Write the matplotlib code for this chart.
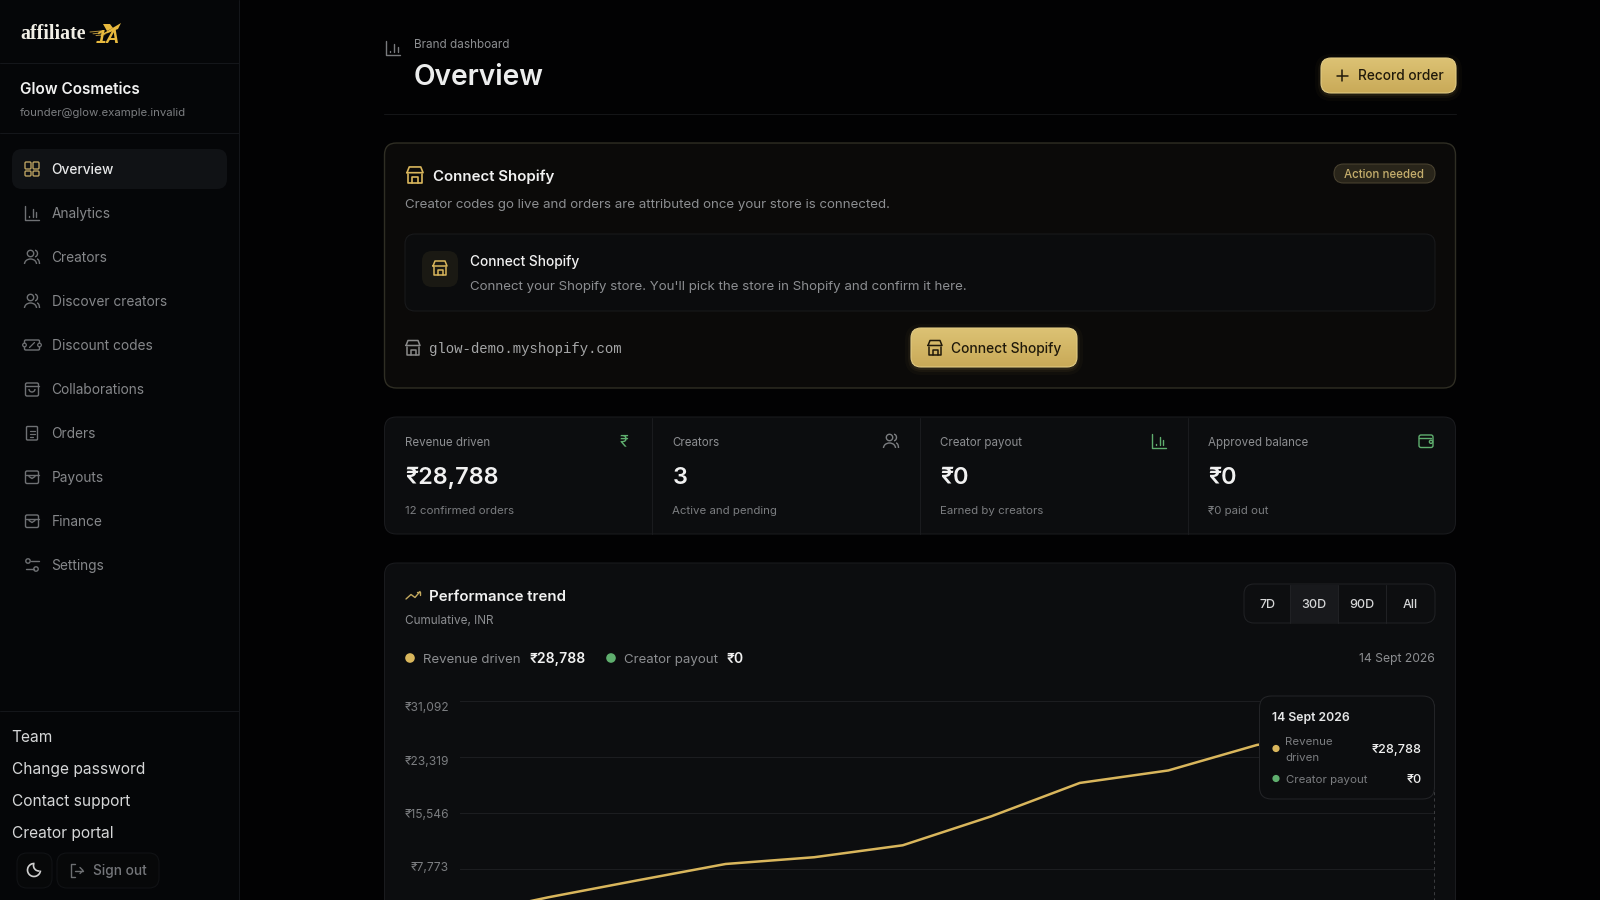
import numpy as np
import matplotlib
matplotlib.use("Agg")
import matplotlib.pyplot as plt
from matplotlib.patches import FancyBboxPatch, Circle, Arc, Polygon
from matplotlib.transforms import ScaledTranslation

plt.rcParams['font.family'] = ['Inter', 'DejaVu Sans']

# data
order_no = [1, 2, 3, 4, 5, 6, 7, 8, 9, 10, 11, 12]
revenue = [1300, 3900, 6230, 8510, 9445, 11100, 15115, 19740, 21470, 25000, 26900, 28788]
payout = [0, 0, 0, 0, 0, 0, 0, 0, 0, 0, 0, 0]
y_ticks = [7773, 15546, 23319, 31092]
y_labels = ['₹7,773', '₹15,546', '₹23,319', '₹31,092']
label_shift = [3, 0, -3, -6]

nav_items = ['Overview', 'Analytics', 'Creators', 'Discover creators', 'Discount codes',
             'Collaborations', 'Orders', 'Payouts', 'Finance', 'Settings']
foot_items = ['Team', 'Change password', 'Contact support', 'Creator portal']
kpi_labels = ['Revenue driven', 'Creators', 'Creator payout', 'Approved balance']
kpi_values = ['₹28,788', '3', '₹0', '₹0']
kpi_notes = ['12 confirmed orders', 'Active and pending', 'Earned by creators', '₹0 paid out']
ranges = ['7D', '30D', '90D', 'All']

GOLD = '#d9b65c'
GREEN = '#5fae6e'
GREY = '#8c8e91'
DIM = '#7b7d80'
WHITE = '#f1f1f1'
CARD = '#0c0d0f'
EDGE = '#1a1b1e'
HAIR = 0.75

fig = plt.figure(figsize=(16, 9), dpi=100, facecolor='#020203')
ui = fig.add_axes([0, 0, 1, 1], zorder=1)
over = fig.add_axes([0, 0, 1, 1], zorder=3)
for a in (ui, over):
    a.set_xlim(0, 1600)
    a.set_ylim(900, 0)
    a.axis('off')
    a.patch.set_alpha(0)


def txt(a, x, y, s, px, color=GREY, weight='normal', ha='left', family=None):
    # Inter runs wide next to the page font, so it gets squeezed a bit
    kw = {} if family is None else {'family': family}
    size = px * 0.94 if family is None else px
    a.text(x, y + 0.36 * size, s, fontsize=size * 0.72, color=color, fontweight=weight, ha=ha,
           va='baseline', **kw)


def box(a, x0, y0, x1, y1, r, fc, ec='none', lw=HAIR, alpha=1, z=2):
    p = FancyBboxPatch((x0, y0), x1 - x0, y1 - y0, boxstyle=f"round,pad=0,rounding_size={r}",
                       fc=fc, ec=ec, lw=lw, alpha=alpha, zorder=z)
    a.add_patch(p)
    return p


def seg(a, xs, ys, c, lw=1.0, z=5):
    a.plot(xs, ys, color=c, lw=lw, solid_capstyle='round', solid_joinstyle='round', zorder=z)


def gold_button(a, x0, y0, x1, y1):
    for i, al in zip([7, 4, 2], [0.03, 0.05, 0.08]):
        box(a, x0 - i + 1, y0 - i + 3, x1 + i - 1, y1 + i + 1, 10 + i, GOLD, alpha=al, z=3)
    p = box(a, x0, y0, x1, y1, 10, 'none', ec='#e3cd86', lw=HAIR, z=5)
    im = a.imshow(np.linspace(0, 1, 32).reshape(-1, 1), extent=(x0, x1, y1, y0), aspect='auto',
                  cmap=matplotlib.colors.LinearSegmentedColormap.from_list('g', ['#dcc274', '#c9aa58']),
                  zorder=4)
    im.set_clip_path(box(a, x0, y0, x1, y1, 10, 'none', z=1))
    a.set_xlim(0, 1600)
    a.set_ylim(900, 0)
    return p


def ic_bars(a, cx, cy, c, s=1.0):
    seg(a, [cx - 7 * s, cx - 7 * s, cx + 7 * s], [cy - 7 * s, cy + 7 * s, cy + 7 * s], c)
    for dx, top in [(-3, 3), (1, -4), (4.5, -1)]:
        seg(a, [cx + dx * s, cx + dx * s], [cy + 4 * s, cy + top * s], c)


def ic_grid(a, cx, cy, c):
    for x0, y0, x1, y1 in [(-7, -7, -1, 0), (1, -7, 7, 0), (1, 2, 7, 7), (-7, 2, -1, 7)]:
        box(a, cx + x0, cy + y0, cx + x1, cy + y1, 1.2, 'none', ec=c, lw=1.0, z=5)


def ic_people(a, cx, cy, c):
    a.add_patch(Circle((cx - 1.5, cy - 3.5), 3.2, fc='none', ec=c, lw=1.0, zorder=5))
    a.add_patch(Arc((cx - 1.5, cy + 7), 12, 10, theta1=180, theta2=360, ec=c, lw=1.0, zorder=5))
    a.add_patch(Arc((cx + 3, cy - 3.5), 5, 6.4, theta1=270, theta2=90, ec=c, lw=1.0, zorder=5))
    a.add_patch(Arc((cx + 5, cy + 7), 5, 10, theta1=270, theta2=360, ec=c, lw=1.0, zorder=5))


def ic_ticket(a, cx, cy, c):
    box(a, cx - 7.5, cy - 5, cx + 7.5, cy + 5, 1.2, 'none', ec=c, lw=1.0, z=5)
    seg(a, [cx - 2.5, cx + 2.5], [cy + 2.5, cy - 2.5], c, lw=0.9)
    ui.add_patch(Circle((cx - 7.5, cy), 1.8, fc='#050608', ec=c, lw=0.9, zorder=6))
    ui.add_patch(Circle((cx + 7.5, cy), 1.8, fc='#050608', ec=c, lw=0.9, zorder=6))


def ic_bag(a, cx, cy, c):
    box(a, cx - 6.5, cy - 6, cx + 6.5, cy + 7, 1.5, 'none', ec=c, lw=1.0, z=5)
    seg(a, [cx - 6.5, cx + 6.5], [cy - 3, cy - 3], c)
    a.add_patch(Arc((cx, cy), 6, 6, theta1=0, theta2=180, ec=c, lw=1.0, zorder=5))


def ic_doc(a, cx, cy, c):
    box(a, cx - 5.5, cy - 6.5, cx + 5.5, cy + 7, 1, 'none', ec=c, lw=1.0, z=5)
    for dy, w in [(-2.5, 2.5), (0.5, 2.5), (3.5, 1)]:
        seg(a, [cx - 2.5, cx + w], [cy + dy, cy + dy], c, lw=0.9)


def ic_inbox(a, cx, cy, c):
    box(a, cx - 6.5, cy - 6, cx + 6.5, cy + 6.5, 1.5, 'none', ec=c, lw=1.0, z=5)
    seg(a, [cx - 6.5, cx + 6.5], [cy - 2.5, cy - 2.5], c)
    seg(a, [cx - 3, cx, cx + 3], [cy - 0.5, cy + 1.5, cy - 0.5], c)


def ic_slide(a, cx, cy, c):
    a.add_patch(Circle((cx - 4, cy - 4), 2.2, fc='none', ec=c, lw=1.0, zorder=5))
    a.add_patch(Circle((cx + 4, cy + 4), 2.2, fc='none', ec=c, lw=1.0, zorder=5))
    seg(a, [cx - 1.5, cx + 6.5], [cy - 4, cy - 4], c)
    seg(a, [cx - 6.5, cx + 1.5], [cy + 4, cy + 4], c)


def ic_store(a, cx, cy, c, s=1.0, lw=1.1):
    seg(a, [cx - 7 * s, cx - 5 * s, cx + 5 * s, cx + 7 * s, cx - 7 * s],
        [cy - 2 * s, cy - 7 * s, cy - 7 * s, cy - 2 * s, cy - 2 * s], c, lw)
    seg(a, [cx - 6 * s, cx - 6 * s, cx + 6 * s, cx + 6 * s], [cy - 1 * s, cy + 7 * s, cy + 7 * s, cy - 1 * s], c, lw)
    seg(a, [cx - 2.5 * s, cx - 2.5 * s, cx + 2.5 * s, cx + 2.5 * s], [cy + 7 * s, cy + 2 * s, cy + 2 * s, cy + 7 * s], c, lw)


def ic_wallet(a, cx, cy, c):
    box(a, cx - 7, cy - 6, cx + 7, cy + 6.5, 2, 'none', ec=c, lw=1.0, z=5)
    seg(a, [cx - 7, cx + 5], [cy - 3, cy - 3], c)
    a.add_patch(Circle((cx + 5, cy + 0.8), 1.6, fc=CARD, ec=c, lw=1.0, zorder=6))


# sidebar
ui.fill_between([0, 239], 0, 900, color='#050608', zorder=1, lw=0)
seg(ui, [239, 239], [0, 900], '#14161a', HAIR, 2)
for yy in (63, 132.5, 711):
    seg(ui, [0, 239], [yy, yy], '#14161a', HAIR, 2)
txt(ui, 20.5, 32, 'affiliate', 20, '#f2efe6', 'bold', family='Liberation Serif')
ui.add_patch(Polygon([(99, 36), (121, 23), (118, 29), (108, 33)], fc='#e8b93e', ec='none', zorder=5))
ui.add_patch(Polygon([(103, 24), (110, 24), (113, 28), (107, 31)], fc='#e8b93e', ec='none', zorder=5))
for i, (x0, x1) in enumerate([(90, 101), (93, 103), (96, 105)]):
    seg(ui, [x0, x1], [32 - i * -1.8, 31 - i * -1.8], '#b08f3a', 0.7)
txt(ui, 108, 36, '1A', 19, '#e8b93e', 'bold', ha='center', family='Liberation Sans')
ui.texts[-1].set_style('italic')
txt(ui, 20, 88, 'Glow Cosmetics', 16.3, WHITE, 'semibold')
txt(ui, 20, 112, 'founder@glow.example.invalid', 12.1, DIM)
box(ui, 12, 149, 227, 189, 10, '#101215')
icons = [ic_grid, ic_bars, ic_people, ic_people, ic_ticket, ic_bag, ic_doc, ic_inbox, ic_inbox, ic_slide]
for i, (name, draw) in enumerate(zip(nav_items, icons)):
    yy = 169 + 44 * i
    txt(ui, 51.5, yy, name, 14.6, '#e6e7e8' if i == 0 else '#85878a', 'medium' if i == 0 else 'normal')
    if draw is ic_bars:
        draw(ui, 32, yy, '#6f7174', 0.95)
    else:
        draw(ui, 32, yy, '#b9a060' if i == 0 else '#6f7174')
for i, name in enumerate(foot_items):
    txt(ui, 11.5, 736 + 32 * i, name, 16.5, '#d6d7d8')
box(ui, 17, 853, 52, 888, 10, '#070809', ec='#111316')
box(ui, 57, 853, 159, 888, 10, '#070809', ec='#111316')
ui.add_patch(Arc((34, 870), 13, 13, theta1=5, theta2=275, ec='#d0d0d0', lw=1.2, zorder=5))
ui.add_patch(Arc((39, 865.5), 11, 11, theta1=85, theta2=195, ec='#d0d0d0', lw=1.2, zorder=5))
seg(ui, [75, 71, 71, 75], [864, 864, 877, 877], '#6d6f72')
seg(ui, [75, 83], [870.5, 870.5], '#6d6f72')
seg(ui, [80, 83, 80], [867.5, 870.5, 873.5], '#6d6f72')
txt(ui, 93, 870, 'Sign out', 14.6, '#74767a', 'medium')

# page header
ic_bars(ui, 393, 48, '#787a7d', 1.05)
txt(ui, 414, 44, 'Brand dashboard', 12.5, GREY)
txt(ui, 414, 75, 'Overview', 30, '#eceded', 'semibold')
seg(ui, [384, 1456], [113.5, 113.5], '#141517', HAIR, 2)
gold_button(ui, 1321, 58, 1456, 93)
seg(ui, [1336.5, 1347.5], [75.5, 75.5], '#20190a', 1.1)
seg(ui, [1342, 1342], [70, 81], '#20190a', 1.1)
txt(ui, 1358, 75.5, 'Record order', 14.5, '#20190a', 'medium')

# connect card
box(ui, 384.5, 143, 1455.5, 388, 12, '#0b0a09', ec='#2f2e24', lw=1)
ic_store(ui, 415, 175, GOLD, 1.15, 1.2)
txt(ui, 433, 175.5, 'Connect Shopify', 16, WHITE, 'semibold')
txt(ui, 405, 203.5, 'Creator codes go live and orders are attributed once your store is connected.', 14.15, GREY)
box(ui, 1334, 164, 1435, 183, 9.5, '#29251a', ec='#4a4331')
txt(ui, 1384.5, 173.5, 'Action needed', 12.3, '#c4ad6c', 'medium', ha='center')
box(ui, 405, 234, 1435, 311, 10, '#0b0c0d', ec='#191a1c')
box(ui, 422, 251, 458, 287, 10, '#1a1913')
ic_store(ui, 440, 268, GOLD, 1.0)
txt(ui, 470, 261, 'Connect Shopify', 14.6, WHITE, 'medium')
txt(ui, 470, 285, "Connect your Shopify store. You'll pick the store in Shopify and confirm it here.", 14.15, GREY)
ic_store(ui, 413, 347.5, '#8a8a8a', 1.0)
txt(ui, 429, 347.5, 'glow-demo.myshopify.com', 14, '#a6a7a8', family='Liberation Mono')
gold_button(ui, 911, 328, 1077, 367)
ic_store(ui, 935, 347.5, '#20190a', 1.0)
txt(ui, 951, 348, 'Connect Shopify', 14.7, '#20190a', 'medium')

# kpi strip
box(ui, 384.5, 417, 1455.5, 534, 12, CARD, ec=EDGE)
for xx in (652, 920, 1187.5):
    seg(ui, [xx, xx], [417.5, 533.5], EDGE, HAIR, 3)
for x0, lab, val, note in zip([405, 672.5, 940.5, 1208], kpi_labels, kpi_values, kpi_notes):
    txt(ui, x0, 441.5, lab, 12.3, GREY)
    txt(ui, x0, 475.5, val, 25, WHITE, 'semibold')
    txt(ui, x0, 509.5, note, 12.2, DIM)
txt(ui, 623.5, 441, '₹', 17, GREEN, ha='center')
ic_people(ui, 891, 441, '#7b7d80')
ic_bars(ui, 1159, 441, GREEN, 0.95)
ic_wallet(ui, 1426, 441, GREEN)

# chart card
box(ui, 384.5, 563, 1455.5, 960, 12, CARD, ec=EDGE)
seg(ui, [406, 411, 415, 420], [599, 594.5, 597.5, 591.5], '#c4a95f', 1.0)
seg(ui, [416.5, 420, 420], [591.5, 591.5, 595], '#c4a95f', 1.0)
txt(ui, 429, 596, 'Performance trend', 16, WHITE, 'semibold')
txt(ui, 405, 619.5, 'Cumulative, INR', 12.5, GREY)
ui.add_patch(Circle((410, 658), 4.8, fc=GOLD, ec='none', zorder=5))
txt(ui, 423, 658, 'Revenue driven', 14.1, GREY)
txt(ui, 530, 658, '₹28,788', 14.9, WHITE, 'semibold')
ui.add_patch(Circle((611, 658), 4.8, fc=GREEN, ec='none', zorder=5))
txt(ui, 624, 658, 'Creator payout', 14.1, GREY)
txt(ui, 727, 658, '₹0', 14.9, WHITE, 'semibold')
txt(ui, 1435, 658, '14 Sept 2026', 12.95, GREY, ha='right')

box(ui, 1244, 584, 1435, 623, 10, '#0d0e10', ec='#202124')
ui.fill_between([1290, 1338], 584.5, 622.5, color='#18191c', zorder=3, lw=0)
for xx in (1290, 1338, 1386):
    seg(ui, [xx, xx], [584.5, 622.5], '#202124', HAIR, 4)
for xx, lab in zip([1267, 1314, 1362, 1410.5], ranges):
    txt(ui, xx, 603.5, lab, 13.3, '#d5d6d7', 'medium', ha='center')

# the trend itself
chart = fig.add_axes([460 / 1600, 1 - 925.4 / 900, 974 / 1600, 224.4 / 900], zorder=2)
chart.patch.set_alpha(0)
chart.plot(order_no, payout, color=GREEN, lw=1.8, clip_on=False)
chart.plot(order_no, revenue, color=GOLD, lw=1.8, solid_joinstyle='round')
chart.axvline(order_no[-1], color='#3a3b3e', lw=HAIR, ls=(0, (3, 3)), clip_on=False)
chart.set_xlim(order_no[0], order_no[-1])
chart.set_ylim(0, y_ticks[-1])
chart.set_xticks([])
chart.set_yticks(y_ticks)
chart.set_yticklabels(y_labels, fontsize=12 * 0.72, color=DIM)
chart.tick_params(axis='y', length=0, pad=8)
chart.grid(axis='y', color='#1c1d20', lw=HAIR)
chart.set_axisbelow(True)
for s in chart.spines.values():
    s.set_visible(False)
for lab, dy in zip(chart.get_yticklabels(), label_shift):
    lab.set_transform(lab.get_transform() + ScaledTranslation(0, dy / 100, fig.dpi_scale_trans))

# tooltip
box(over, 1259.5, 696, 1434.5, 799, 12, CARD, ec='#232427', z=5)
txt(over, 1272, 716.5, '14 Sept 2026', 13, '#e6e7e8', 'semibold')
over.add_patch(Circle((1276, 748.5), 3.6, fc=GOLD, ec='none', zorder=6))
txt(over, 1285, 741, 'Revenue', 12.2, DIM)
txt(over, 1285, 756.5, 'driven', 12.2, DIM)
txt(over, 1422, 748.5, '₹28,788', 13.5, WHITE, 'medium', ha='right')
over.add_patch(Circle((1276, 778.5), 3.6, fc=GREEN, ec='none', zorder=6))
txt(over, 1286, 778.5, 'Creator payout', 12.2, DIM)
txt(over, 1422, 778.5, '₹0', 13.5, WHITE, 'medium', ha='right')
for t in over.texts:
    t.set_zorder(7)
for t in ui.texts:
    t.set_zorder(8)

fig.savefig('out.png', dpi=100, facecolor=fig.get_facecolor())
